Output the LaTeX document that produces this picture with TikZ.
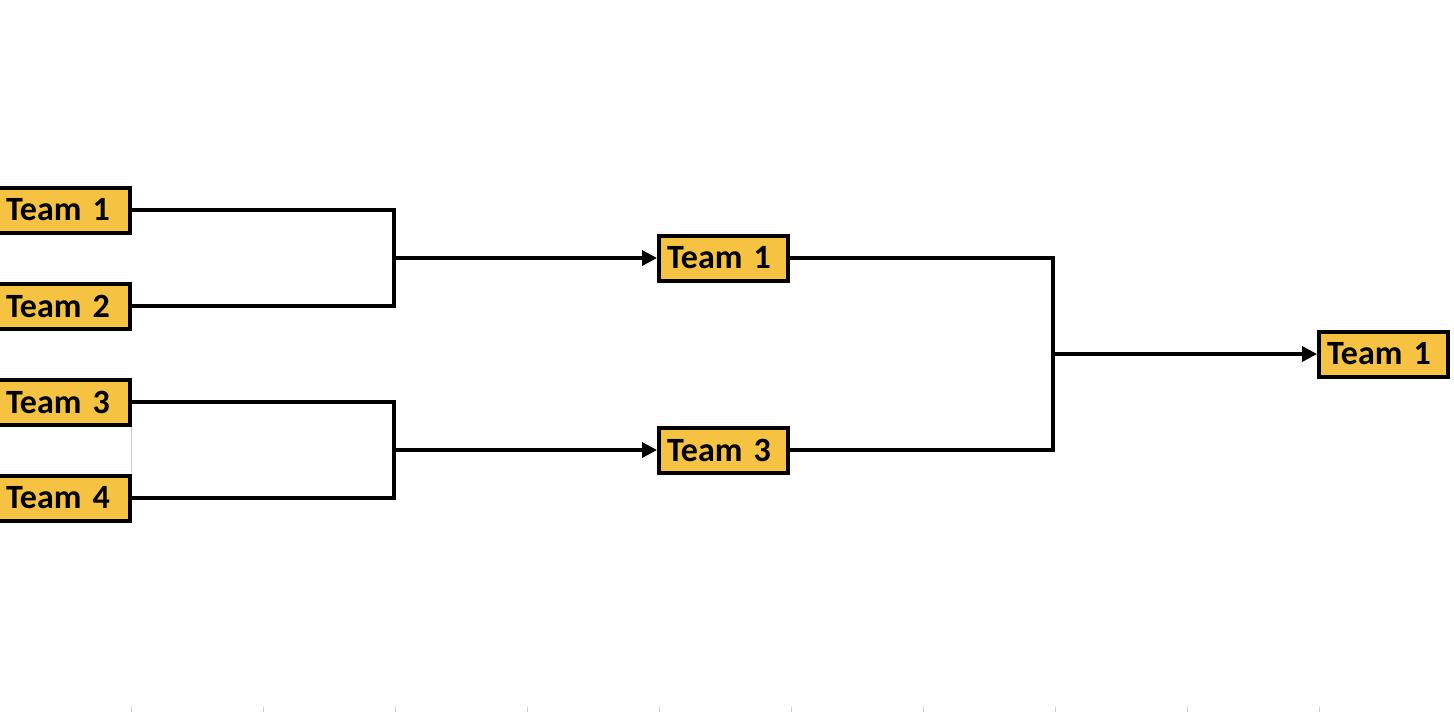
\documentclass[tikz,border=0pt]{standalone}
\usepackage{fontspec}
\setmainfont{Carlito}
\usepackage{tikz}
\usetikzlibrary{arrows.meta,positioning,calc}
\definecolor{teamgold}{HTML}{F5C242}
\tikzset{>={Triangle[length=15pt,width=15pt]},
    team/.style={draw, line width=4pt, fill=teamgold, text width=113pt, inner xsep=8pt, inner ysep=0pt,
        minimum height=45pt, align=left, font=\bfseries\fontsize{34}{34}\selectfont},
    bracket/.style={line width=3.5pt}}

\begin{document}
\begin{tikzpicture}[x=1pt, y=1pt]
    \useasboundingbox (0,0) rectangle (1454,-712);
    % faint sheet grid ticks
    \foreach \gx in {131,263,395,527,659,791,923,1055,1187,1319}
        \draw[black!20, line width=0.8pt] (\gx,-707) -- (\gx,-712);
    \draw[black!20, line width=0.8pt] (131,-427) -- (131,-473);
    % first round
    \foreach[count=\i] \ty in {210,306,402,498} {
        \node[team, text width=116pt] (r1-\i) at (64,-\ty) {Team \i};
    }
    % second round
    \node[team] (r2-1) at (723.5,-258) {Team 1};
    \node[team] (r2-2) at (723.5,-450) {Team 3};
    % final
    \node[team] (r3-1) at (1383.5,-354) {Team 1};
    % brackets
    \coordinate (j1) at (394,-258);
    \coordinate (j2) at (394,-450);
    \coordinate (j3) at (1053,-354);
    \draw[bracket] (r1-1.east) -| (j1) |- (r1-2.east);
    \draw[bracket] (r1-3.east) -| (j2) |- (r1-4.east);
    \draw[bracket] (r2-1.east) -| (j3) |- (r2-2.east);
    \draw[bracket,->] (j1) -- (r2-1.west);
    \draw[bracket,->] (j2) -- (r2-2.west);
    \draw[bracket,->] (j3) -- (r3-1.west);
\end{tikzpicture}
\end{document}
